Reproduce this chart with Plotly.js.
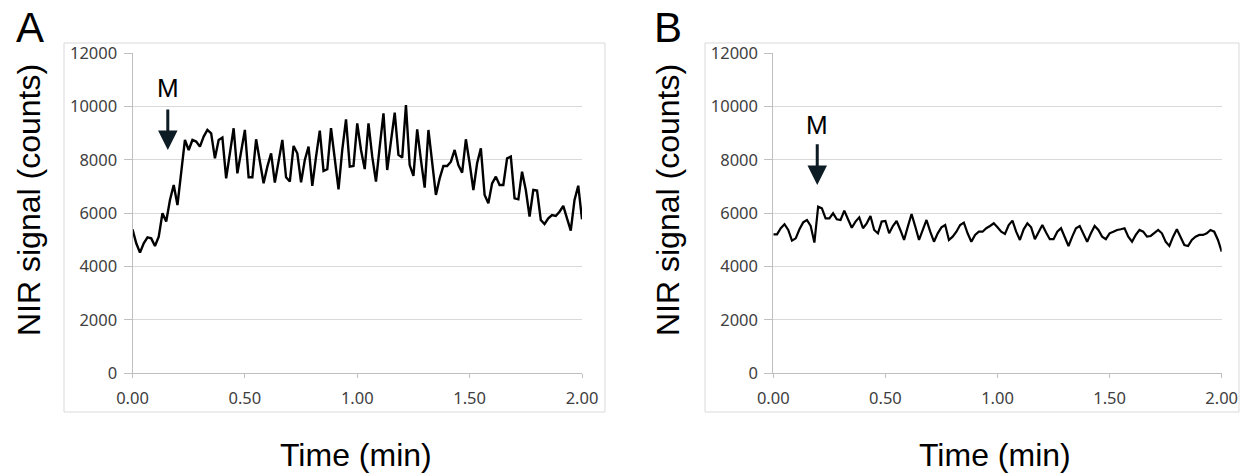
<!DOCTYPE html>
<html>
<head>
<meta charset="utf-8">
<script src="https://cdn.plot.ly/plotly-3.0.1.min.js"></script>
<style>
html,body{margin:0;padding:0;background:#fff;}
#chart{width:1244px;height:474px;}
</style>
</head>
<body>
<div id="chart"></div>
<script>
// Time axis (minutes), one sample per second
const timeMin = [
0.0000,0.0167,0.0333,0.0500,0.0667,0.0833,0.1000,0.1167,0.1333,0.1500,
0.1667,0.1833,0.2000,0.2167,0.2333,0.2500,0.2667,0.2833,0.3000,0.3167,
0.3333,0.3500,0.3667,0.3833,0.4000,0.4167,0.4333,0.4500,0.4667,0.4833,
0.5000,0.5167,0.5333,0.5500,0.5667,0.5833,0.6000,0.6167,0.6333,0.6500,
0.6667,0.6833,0.7000,0.7167,0.7333,0.7500,0.7667,0.7833,0.8000,0.8167,
0.8333,0.8500,0.8667,0.8833,0.9000,0.9167,0.9333,0.9500,0.9667,0.9833,
1.0000,1.0167,1.0333,1.0500,1.0667,1.0833,1.1000,1.1167,1.1333,1.1500,
1.1667,1.1833,1.2000,1.2167,1.2333,1.2500,1.2667,1.2833,1.3000,1.3167,
1.3333,1.3500,1.3667,1.3833,1.4000,1.4167,1.4333,1.4500,1.4667,1.4833,
1.5000,1.5167,1.5333,1.5500,1.5667,1.5833,1.6000,1.6167,1.6333,1.6500,
1.6667,1.6833,1.7000,1.7167,1.7333,1.7500,1.7667,1.7833,1.8000,1.8167,
1.8333,1.8500,1.8667,1.8833,1.9000,1.9167,1.9333,1.9500,1.9667,1.9833,
2.0000];

// Panel A: NIR signal (counts)
const signalA = [
5400,4875,4525,4875,5100,5060,4775,5125,6000,5690,
6500,7060,6310,7500,8750,8375,8750,8690,8500,8875,
9125,9000,8060,8750,8840,7310,8250,9190,7500,8310,
9125,7350,7350,8775,7935,7125,7750,8250,7150,8000,
8750,7350,7190,8525,8250,7160,8000,8500,7025,8125,
9100,7590,7650,9190,8000,6900,8375,9525,7750,7775,
9375,8375,7660,9375,8125,7190,8500,9750,7625,8750,
9775,8190,8090,10060,7810,7400,9150,8000,6960,9125,
7875,6690,7310,7775,7775,7935,8375,7810,7525,8775,
7875,6875,7875,8440,6690,6375,7125,7375,7060,7060,
8060,8125,6560,6525,7560,6875,5875,6875,6850,5750,
5600,5810,5935,5900,6060,6275,5810,5350,6500,7035,
5775];

// Panel B: NIR signal (counts)
const signalB = [
5210,5210,5440,5590,5375,4975,5060,5400,5660,5750,
5525,4900,6250,6185,5810,5810,6000,5775,5750,6100,
5775,5460,5690,5850,5440,5625,5900,5375,5250,5690,
5710,5250,5525,5710,5375,5000,5500,5975,5500,5000,
5375,5750,5310,4935,5250,5475,5560,5000,5125,5310,
5560,5650,5250,4935,5190,5310,5310,5440,5525,5625,
5475,5310,5225,5560,5725,5310,5000,5400,5625,5475,
5030,5280,5560,5280,5030,5030,5310,5440,5125,4775,
5125,5440,5525,5250,4935,5250,5525,5375,5125,5030,
5250,5310,5375,5400,5440,5125,4935,5190,5375,5310,
5125,5150,5250,5375,5250,4935,4775,5125,5400,5125,
4810,4775,5000,5125,5190,5190,5250,5375,5310,5000,
4560];

const xTickVals = [0, 0.5, 1.0, 1.5, 2.0];
const xTickText = ['0.00', '0.50', '1.00', '1.50', '2.00'];
const yTickVals = [0, 2000, 4000, 6000, 8000, 10000, 12000];
const yTickText = ['0', '2000', '4000', '6000', '8000', '10000', '12000'];
const panelLabels = ['A', 'B'];
const markerLabel = 'M';
const markerA = {x: 0.157, tip: 8375, tail: 9950, text: 10690};
const markerB = {x: 0.196, tip: 7060, tail: 8650, text: 9300};
const yTitle = 'NIR signal (counts)';
const xTitle = 'Time (min)';

const W = 1244, H = 474;
const px = v => v / W;
const py = v => 1 - v / H;

const tickFont = {family: 'Noto Sans, Open Sans, sans-serif', size: 16.5, color: '#404040'};
const gridC = '#d9d9d9';
const axisC = '#bfbfbf';

function xa(domain, anchor) {
  return {
    domain: domain, anchor: anchor, range: [0, 2],
    tickmode: 'array', tickvals: xTickVals, ticktext: xTickText,
    showgrid: false, zeroline: false,
    showline: true, linecolor: axisC, linewidth: 1,
    ticks: 'outside', ticklen: 4, tickcolor: axisC, tickwidth: 1,
    ticklabelstandoff: 6,
    tickfont: tickFont, fixedrange: true
  };
}
function ya(domain, anchor, tl) {
  return {
    domain: domain, anchor: anchor, range: [0, 12000],
    tickmode: 'array', tickvals: yTickVals, ticktext: yTickText,
    showgrid: true, gridcolor: gridC, gridwidth: 1,
    zeroline: false,
    showline: true, linecolor: axisC, linewidth: 1,
    ticks: 'outside', ticklen: tl, tickcolor: axisC, tickwidth: 1,
    ticklabelstandoff: 3,
    tickfont: tickFont, fixedrange: true
  };
}

const traces = [
  {x: timeMin, y: signalA, xaxis: 'x', yaxis: 'y', type: 'scatter', mode: 'lines',
   line: {color: '#000', width: 2.4}, hoverinfo: 'skip'},
  {x: timeMin, y: signalB, xaxis: 'x2', yaxis: 'y2', type: 'scatter', mode: 'lines',
   line: {color: '#000', width: 2.2}, hoverinfo: 'skip'}
];

const yDom = [py(373.3), py(53.3)];

const titleFont = {family: 'Liberation Sans, Arial, sans-serif', size: 32, color: '#000'};
const letterFont = {family: 'Liberation Sans, Arial, sans-serif', size: 42, color: '#000'};
const mFont = {family: 'Liberation Sans, Arial, sans-serif', size: 26, color: '#000'};

const annotations = [
  {xref: 'paper', yref: 'paper', x: px(30), y: py(28), text: panelLabels[0], showarrow: false, font: letterFont, xanchor: 'center', yanchor: 'middle'},
  {xref: 'paper', yref: 'paper', x: px(668), y: py(28), text: panelLabels[1], showarrow: false, font: letterFont, xanchor: 'center', yanchor: 'middle'},
  {xref: 'paper', yref: 'paper', x: px(29), y: py(200), text: yTitle, textangle: -90, showarrow: false, font: titleFont, xanchor: 'center', yanchor: 'middle'},
  {xref: 'paper', yref: 'paper', x: px(668), y: py(200), text: yTitle, textangle: -90, showarrow: false, font: titleFont, xanchor: 'center', yanchor: 'middle'},
  {xref: 'paper', yref: 'paper', x: px(356), y: py(455), text: xTitle, showarrow: false, font: titleFont, xanchor: 'center', yanchor: 'middle'},
  {xref: 'paper', yref: 'paper', x: px(995), y: py(455), text: xTitle, showarrow: false, font: titleFont, xanchor: 'center', yanchor: 'middle'},
  // M markers
  {xref: 'x', yref: 'y', x: markerA.x, y: markerA.text, text: markerLabel, showarrow: false, font: mFont, xanchor: 'center', yanchor: 'middle'},
  {xref: 'x', yref: 'y', x: markerA.x, y: markerA.tip, ax: markerA.x, ay: markerA.tail, axref: 'x', ayref: 'y',
   text: '', showarrow: true, arrowhead: 2, arrowsize: 1.3, arrowwidth: 3, arrowcolor: '#0d1b24', standoff: 0},
  {xref: 'x2', yref: 'y2', x: markerB.x, y: markerB.text, text: markerLabel, showarrow: false, font: mFont, xanchor: 'center', yanchor: 'middle'},
  {xref: 'x2', yref: 'y2', x: markerB.x, y: markerB.tip, ax: markerB.x, ay: markerB.tail, axref: 'x2', ayref: 'y2',
   text: '', showarrow: true, arrowhead: 2, arrowsize: 1.3, arrowwidth: 3, arrowcolor: '#0d1b24', standoff: 0}
];

const shapes = [
  {type: 'rect', xref: 'paper', yref: 'paper', x0: px(64), x1: px(605), y0: py(412), y1: py(43),
   line: {color: '#d9d9d9', width: 1}, fillcolor: 'rgba(0,0,0,0)', layer: 'below'},
  {type: 'rect', xref: 'paper', yref: 'paper', x0: px(705), x1: px(1239), y0: py(412), y1: py(43),
   line: {color: '#d9d9d9', width: 1}, fillcolor: 'rgba(0,0,0,0)', layer: 'below'}
];

const layout = {
  width: W, height: H,
  margin: {l: 0, r: 0, t: 0, b: 0},
  paper_bgcolor: '#fff', plot_bgcolor: '#fff',
  showlegend: false,
  xaxis: xa([px(132.5), px(582)], 'y'),
  yaxis: ya(yDom, 'x', 8),
  xaxis2: xa([px(773.3), px(1221.7)], 'y2'),
  yaxis2: ya(yDom, 'x2', 8),
  annotations: annotations,
  shapes: shapes
};

Plotly.newPlot('chart', traces, layout, {displayModeBar: false, staticPlot: true});
</script>
</body>
</html>
